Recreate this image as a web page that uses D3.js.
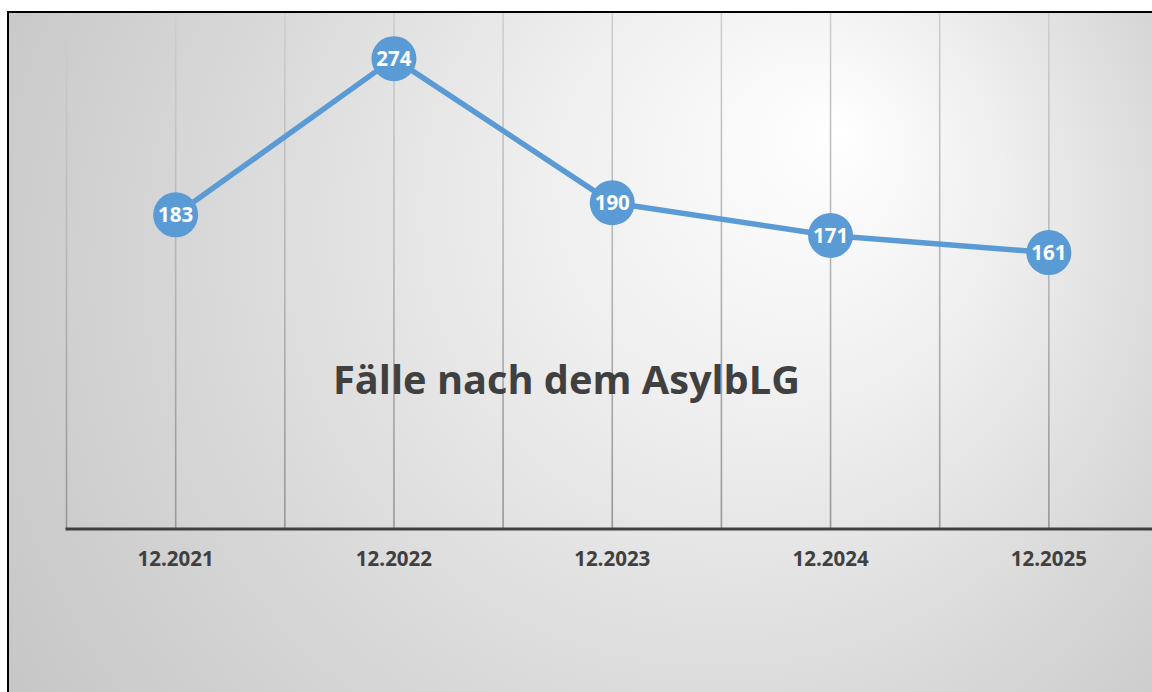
<!DOCTYPE html>
<html><head><meta charset="utf-8">
<script src="https://cdn.jsdelivr.net/npm/d3@7"></script>
<style>html,body{margin:0;padding:0;background:#fff;overflow:hidden}</style>
</head><body>
<svg id="c" width="1152" height="692"></svg>
<script>
const categories = ["12.2021","12.2022","12.2023","12.2024","12.2025"];
const values = [183, 274, 190, 171, 161];
const title = "Fälle nach dem AsylbLG";
const yDomain = [0, 300];

const FONT = "'Open Sans', 'Noto Sans', sans-serif";
const svg = d3.select("#c");
const defs = svg.append("defs");
const bg = defs.append("radialGradient").attr("id","bg").attr("gradientUnits","userSpaceOnUse")
  .attr("cx",620).attr("cy",320).attr("r",760).attr("fx",840).attr("fy",130);
bg.append("stop").attr("offset","0").attr("stop-color","#ffffff");
bg.append("stop").attr("offset","0.3").attr("stop-color","#efefef");
bg.append("stop").attr("offset","0.65").attr("stop-color","#d8d8d8");
bg.append("stop").attr("offset","1").attr("stop-color","#c4c4c4");

const gg = defs.append("linearGradient").attr("id","grid").attr("gradientUnits","userSpaceOnUse")
  .attr("x1",0).attr("y1",13).attr("x2",0).attr("y2",528);
gg.append("stop").attr("offset","0").attr("stop-color","#cfcfcf");
gg.append("stop").attr("offset","0.5").attr("stop-color","#b4b4b4");
gg.append("stop").attr("offset","1").attr("stop-color","#979797");

svg.append("rect").attr("x",8).attr("y",12).attr("width",1300).attr("height",800)
  .attr("fill","url(#bg)").attr("stroke","#000").attr("stroke-width",2);

const x = d3.scaleBand().domain(categories).range([66.5, 1158]).padding(0);
const y = d3.scaleLinear().domain(yDomain).range([529, 14]);

const gx = [];
categories.forEach(c => { gx.push(x(c)); gx.push(x(c) + x.bandwidth()/2); });
svg.append("g").selectAll("line").data(gx).join("line")
  .attr("x1",d=>d).attr("x2",d=>d).attr("y1",y(yDomain[1])-1).attr("y2",y(0))
  .attr("stroke","url(#grid)").attr("stroke-width",1.6);

const axis = d3.axisBottom(x).tickSize(0).tickPadding(0);
const ag = svg.append("g").attr("transform",`translate(0,${y(0)})`).call(axis);
ag.select(".domain").attr("stroke","#404040").attr("stroke-width",3.2)
  .attr("d",`M${x.range()[0]-1},0H1160`);
ag.selectAll(".tick text").attr("y",37).attr("dy",0)
  .attr("font-family",FONT).attr("font-weight","bold")
  .attr("font-size","20.5px").attr("fill","#404040");

const t = svg.append("text").attr("x",566.5).attr("y",394).attr("text-anchor","middle")
  .attr("font-family",FONT).attr("font-weight","bold")
  .attr("font-size","40px").attr("fill","#404040").text(title);
const w = t.node().getComputedTextLength();
t.attr("font-size", (40*467/w).toFixed(2)+"px");

const cx = d => x(d.c) + x.bandwidth()/2;
const data = categories.map((c,i)=>({c, v: values[i]}));
svg.append("path").datum(data)
  .attr("d", d3.line().x(cx).y(d=>y(d.v)))
  .attr("fill","none").attr("stroke","#5b9bd5").attr("stroke-width",5.5)
  .attr("stroke-linejoin","round");

const pts = svg.append("g").selectAll("g").data(data).join("g")
  .attr("transform",d=>`translate(${cx(d)},${y(d.v)})`);
pts.append("circle").attr("r",22.5).attr("fill","#5b9bd5");
pts.append("text").attr("text-anchor","middle").attr("dy","0.36em")
  .attr("font-family",FONT).attr("font-weight","bold")
  .attr("font-size","20.5px").attr("fill","#fff").text(d=>d.v);
</script>
</body></html>
